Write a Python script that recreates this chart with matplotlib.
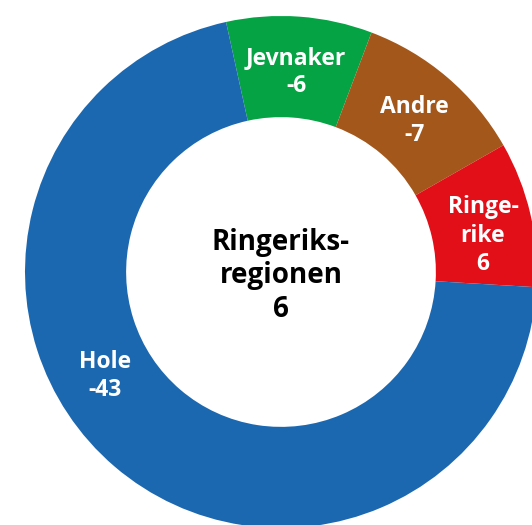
import matplotlib.pyplot as plt

# Data
navn = ["Jevnaker", "Andre", "Ringe-\nrike", "Hole"]
verdier = [-6, -7, 6, -43]
# Andeler lest av vinklene i figuren
andeler = [5.6, 6.7, 5.6, 43.0]
farger = ["#05a343", "#a3571a", "#e20e18", "#1c68b0"]
senter_tekst = "Ringeriks-\nregionen\n6"

plt.rcParams["font.family"] = ["Open Sans", "DejaVu Sans"]

fig = plt.figure(figsize=(5.32, 5.25), dpi=100)
# Sirkelens sentrum (281, 272) px, ytre radius 256 px
ax = fig.add_axes([(281 - 256) / 532, (525 - 272 - 256) / 525, 512 / 532, 512 / 525])

ax.pie(andeler, colors=farger, startangle=102.4, counterclock=False,
       radius=1, wedgeprops=dict(width=0.395, linewidth=0))

# Plassering av etikettene (ringens koordinater)
pos = [(0.059, 0.781), (0.52, 0.59), (0.789, 0.141), (-0.6875, -0.406)]
for n, v, (x, y) in zip(navn, verdier, pos):
    ax.text(x, y, f"{n}\n{v}", ha="center", va="center", color="white",
            fontsize=16.5, fontweight="bold", linespacing=1.25)

ax.text(0, -0.015, senter_tekst, ha="center", va="center", color="black",
        fontsize=20, fontweight="bold", linespacing=1.2)

ax.set_xlim(-1, 1)
ax.set_ylim(-1, 1)
ax.set_aspect("equal")
ax.axis("off")

fig.savefig("out.png", dpi=100)
